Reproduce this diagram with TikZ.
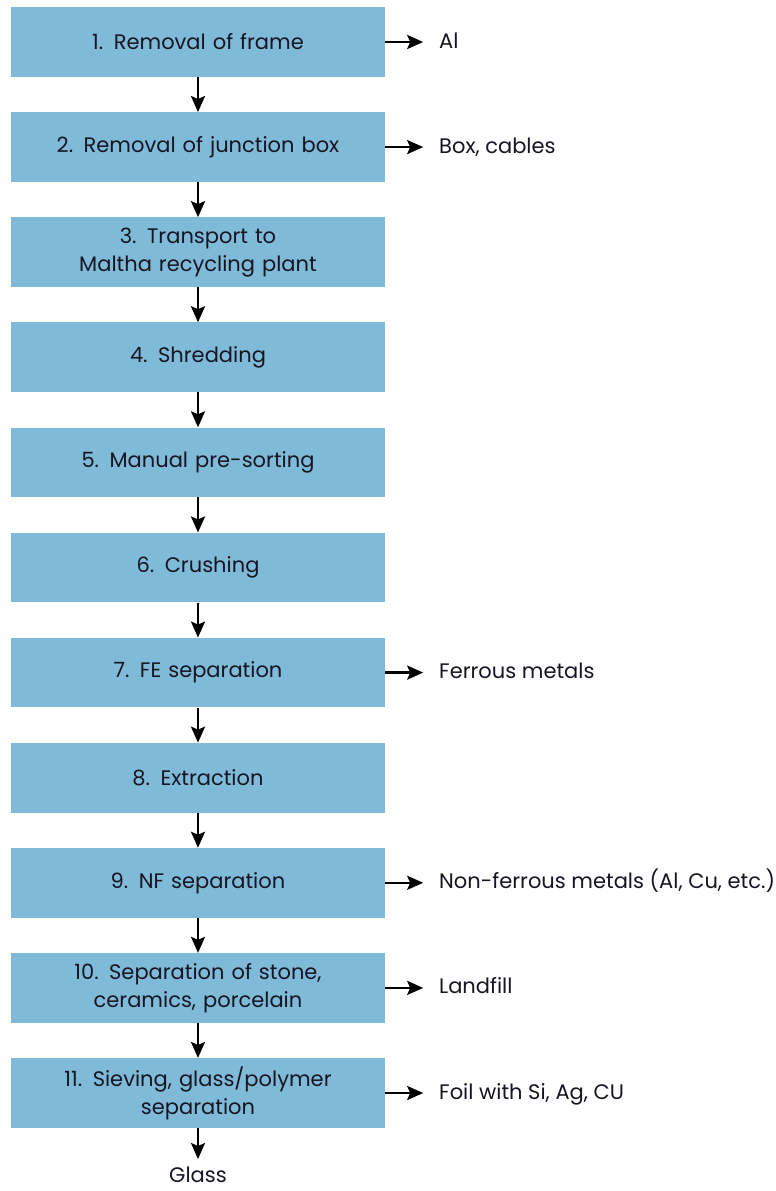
\documentclass[tikz,border=0pt]{standalone}
\usepackage{xcolor}
\usepackage{fontspec}
\setmainfont{Poppins}
\usepackage{tikz}
\usetikzlibrary{arrows.meta,positioning}
\definecolor{boxblue}{RGB}{127,186,217}
\definecolor{inkdark}{RGB}{22,22,34}

\begin{document}
\begin{tikzpicture}[
    x=1pt, y=-1pt,
    node distance=35pt,
    font=\fontsize{21}{28}\selectfont, text=inkdark,
    block/.style={rectangle, fill=boxblue, text width=360pt, align=center, minimum width=374pt, minimum height=69.7pt, inner sep=0pt},
    result/.style={anchor=west, inner sep=0pt, outer xsep=16pt, text height=16pt, text depth=4pt},
    line/.style={draw, line width=2.4pt, -{Stealth[length=16pt,width=14pt,inset=3pt]}}
]
    \useasboundingbox (0,0) rectangle (776,1191);
    \node [block] (f1) at (198,42) {1. Removal of frame};
    \node [block, below=of f1] (f2) {2. Removal of junction box};
    \node [block, below=of f2] (f3) {3. Transport to\\Maltha recycling plant};
    \node [block, below=of f3] (f4) {4. Shredding};
    \node [block, below=of f4] (f5) {5. Manual pre-sorting};
    \node [block, below=of f5] (f6) {6. Crushing};
    \node [block, below=of f6] (f7) {7. FE separation};
    \node [block, below=of f7] (f8) {8. Extraction};
    \node [block, below=of f8] (f9) {9. NF separation};
    \node [block, below=of f9] (f10) {10. Separation of stone,\\ceramics, porcelain};
    \node [block, below=of f10] (f11) {11. Sieving, glass/polymer\\separation};
    \node [below=31pt of f11, inner sep=0pt, outer ysep=7pt, text height=16pt, text depth=0pt] (glass) {Glass};

    \node [result, right=38pt of f1] (o1) {Al};
    \node [result, right=38pt of f2] (o2) {Box, cables};
    \node [result, right=38pt of f7] (o7) {Ferrous metals};
    \node [result, right=38pt of f9] (o9) {Non-ferrous metals (Al, Cu, etc.)};
    \node [result, right=38pt of f10] (o10) {Landfill};
    \node [result, right=38pt of f11] (o11) {Foil with Si, Ag, CU};

    \path [line] (f1) -- (f2);
    \path [line] (f2) -- (f3);
    \path [line] (f3) -- (f4);
    \path [line] (f4) -- (f5);
    \path [line] (f5) -- (f6);
    \path [line] (f6) -- (f7);
    \path [line] (f7) -- (f8);
    \path [line] (f8) -- (f9);
    \path [line] (f9) -- (f10);
    \path [line] (f10) -- (f11);
    \path [line] (f11) -- (glass);

    \path [line] (f1.east) -- (o1.west);
    \path [line] (f2.east) -- (o2.west);
    \path [line] (f7.east) -- (o7.west);
    \path [line] (f9.east) -- (o9.west);
    \path [line] (f10.east) -- (o10.west);
    \path [line] (f11.east) -- (o11.west);
\end{tikzpicture}
\end{document}
